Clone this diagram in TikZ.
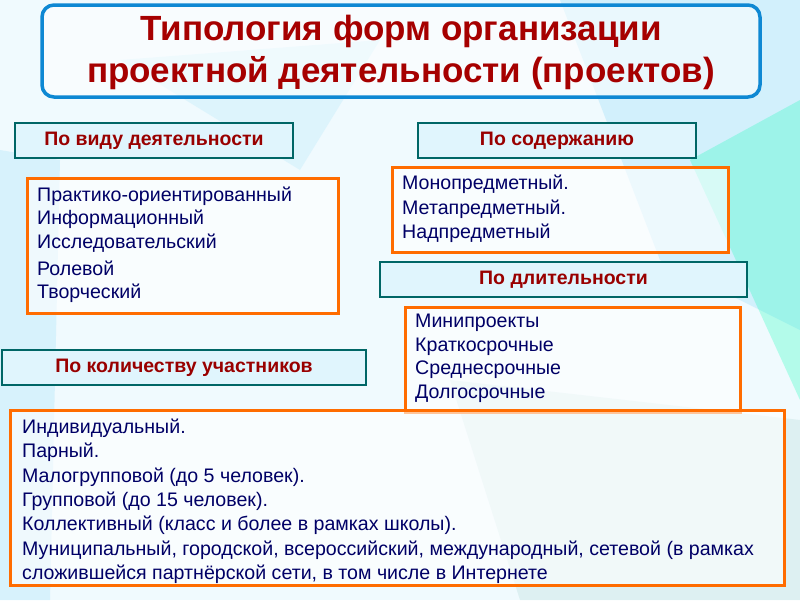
\documentclass[tikz,border=0pt]{standalone}
\usepackage{fontspec}
\setmainfont{Liberation Sans}
\begin{document}
\begin{tikzpicture}[x=1pt,y=-1pt,
  hdr/.style={draw=teal!80!black,line width=2.5pt,fill=cyan!12,text=red!60!black,font=\bfseries\fontsize{19.5}{22}\selectfont},
  cnt/.style={draw=orange!85!red,line width=3pt,fill=white,fill opacity=0.6,text opacity=1},
  ln/.style={anchor=west,text=blue!40!black,font=\fontsize{19.6}{22}\selectfont,inner sep=0pt}]
\useasboundingbox (0,0) rectangle (800,600);
\fill[cyan!6] (0,0) rectangle (800,600);
\fill[cyan!25,opacity=0.6] (560,0) -- (800,0) -- (800,330) -- (660,260) -- cycle;
\fill[green!30!cyan,opacity=0.25] (690,160) -- (800,100) -- (800,400) -- cycle;
\fill[cyan!30,opacity=0.4] (0,150) -- (60,160) -- (50,600) -- (0,600) -- cycle;
\fill[teal!30,opacity=0.3] (450,380) -- (800,420) -- (800,600) -- (520,600) -- cycle;
\fill[cyan!20,opacity=0.5] (120,60) -- (380,40) -- (300,170) -- cycle;
\node[draw=cyan!70!blue,line width=3.5pt,rounded corners=12pt,fill=white,fill opacity=0.55,minimum width=718pt,minimum height=92pt] (t) at (401,51) {};
\node[text=red!65!black,font=\bfseries\fontsize{35}{42}\selectfont,align=center] (tt) at (401,52) {Типология форм организации\\проектной деятельности (проектов)};
\node[hdr,minimum width=278pt,minimum height=35pt] (h1) at (154,140.5) {По виду деятельности};
\node[hdr,minimum width=278pt,minimum height=35pt] (h2) at (557,140.5) {По содержанию};
\node[hdr,minimum width=367pt,minimum height=35pt] (h3) at (563.5,279.5) {По длительности};
\node[hdr,minimum width=364pt,minimum height=35pt] (h4) at (184,367.5) {По количеству участников};
\node[cnt,minimum width=311pt,minimum height=135pt] (c1) at (182.5,245.5) {};
\node[cnt,minimum width=336pt,minimum height=85pt] (c2) at (560,209.5) {};
\node[cnt,minimum width=335pt,minimum height=105pt] (c3) at (572.5,359.5) {};
\node[cnt,minimum width=774pt,minimum height=175pt] (c4) at (397,497.5) {};
\node[ln] (a1) at (37,196) {Практико-ориентированный};
\node[ln] (a2) at (37,219) {Информационный};
\node[ln] (a3) at (37,243) {Исследовательский};
\node[ln] (a4) at (37,268) {Ролевой};
\node[ln] (a5) at (37,293) {Творческий};
\node[ln] (b1) at (402,184) {Монопредметный.};
\node[ln] (b2) at (402,209) {Метапредметный.};
\node[ln] (b3) at (402,233) {Надпредметный};
\node[ln] (d1) at (415,323) {Минипроекты};
\node[ln] (d2) at (415,347) {Краткосрочные};
\node[ln] (d3) at (415,370) {Среднесрочные};
\node[ln] (d4) at (415,394) {Долгосрочные};
\node[ln] (e1) at (22,428) {Индивидуальный.};
\node[ln] (e2) at (22,452) {Парный.};
\node[ln] (e3) at (22,477) {Малогрупповой (до 5 человек).};
\node[ln] (e4) at (22,501) {Групповой (до 15 человек).};
\node[ln] (e5) at (22,525) {Коллективный (класс и более в рамках школы).};
\node[ln] (e6) at (22,550) {Муниципальный, городской, всероссийский, международный, сетевой (в рамках};
\node[ln] (e7) at (22,574) {сложившейся партнёрской сети, в том числе в Интернете};
\end{tikzpicture}
\end{document}
